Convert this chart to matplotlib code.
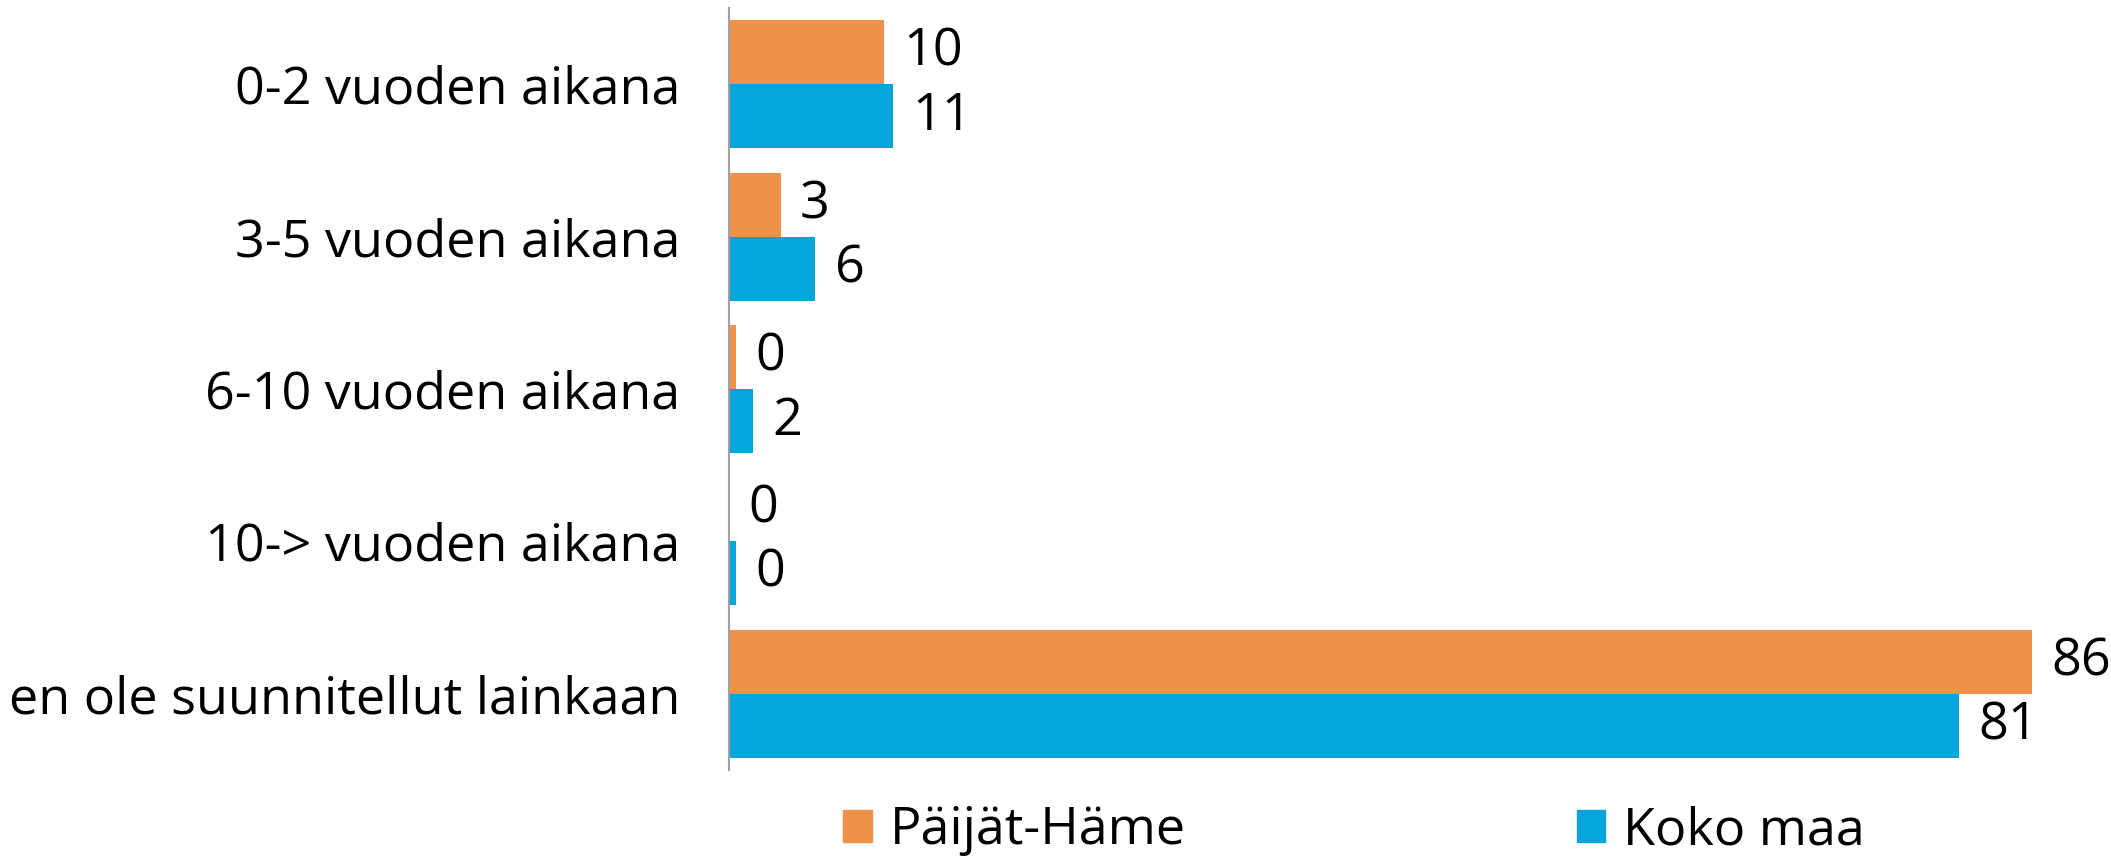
import matplotlib
matplotlib.use("Agg")
import matplotlib.pyplot as plt
import numpy as np
from matplotlib.patches import Patch

categories = ["0-2 vuoden aikana", "3-5 vuoden aikana", "6-10 vuoden aikana",
              "10-> vuoden aikana", "en ole suunnitellut lainkaan"]
series_names = ["Päijät-Häme", "Koko maa"]
paijat_hame = [10.2, 3.4, 0.45, 0.0, 86.0]
koko_maa = [10.8, 5.7, 1.6, 0.45, 81.2]
colors = ["#F0914B", "#03A5DA"]

plt.rcParams['font.family'] = ['Open Sans', 'DejaVu Sans']
FS = 37.5

fig = plt.figure(figsize=(21.11, 8.56), dpi=100)
ax = fig.add_axes([729/2111, 1-770/856, (90*15.15)/2111, 762/856])

y = np.arange(len(categories))
h = 0.42
b1 = ax.barh(y - h/2, paijat_hame, height=h, color=colors[0], label=series_names[0])
b2 = ax.barh(y + h/2, koko_maa, height=h, color=colors[1], label=series_names[1])
ax.bar_label(b1, fmt="%.0f", padding=14, fontsize=FS)
ax.bar_label(b2, fmt="%.0f", padding=14, fontsize=FS)

ax.set_xlim(0, 90)
ax.set_ylim(len(categories) - 0.5, -0.5)
ax.set_yticks(y)
ax.set_yticklabels(categories, fontsize=FS)
ax.tick_params(axis='y', length=0, pad=35)
ax.set_xticks([])
for s in ["top", "right", "bottom"]:
    ax.spines[s].set_visible(False)
ax.spines["left"].set_color("#A0A0A0")
ax.spines["left"].set_linewidth(1.5)

handles = [Patch(color=colors[0]), Patch(color=colors[1])]
fig.legend(handles, series_names, loc="center", bbox_to_anchor=(1354/2111, 1-831/856),
           ncol=2, frameon=False, fontsize=FS, handlelength=0.55, handleheight=0.55,
           handletextpad=0.35, columnspacing=7.5, borderaxespad=0)

fig.savefig("out.png", dpi=100)
